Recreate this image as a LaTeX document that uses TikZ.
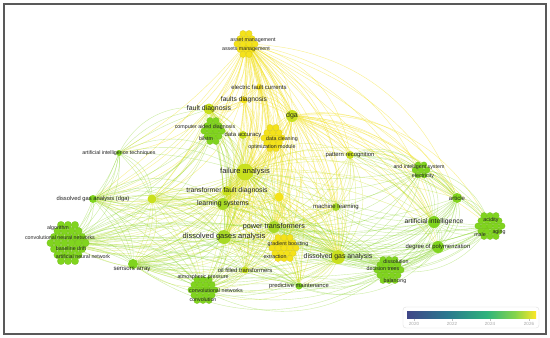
\documentclass[tikz,border=0pt]{standalone}
\usepackage{fontspec}
\setmainfont{Liberation Sans}
\usepackage{tikz}
\usetikzlibrary{backgrounds}

\definecolor{cYe}{HTML}{F4E21A}
\definecolor{cYG}{HTML}{C9E01E}
\definecolor{cLi}{HTML}{A8DA26}
\definecolor{cGr}{HTML}{80D41E}
\definecolor{txt}{HTML}{222222}
\definecolor{v0}{HTML}{404788}
\definecolor{v1}{HTML}{2A788E}
\definecolor{v2}{HTML}{2FB47C}
\definecolor{v3}{HTML}{84D44B}
\definecolor{v4}{HTML}{FDE725}

% offsets of the small bubbles in a cluster
\def\hexS{0/0,6/0,-6/0,3/5.2,-3/5.2,3/-5.2,-3/-5.2}
\def\hexM{-9/0,-3/0,3/0,9/0,-6/5.2,0/5.2,6/5.2,-6/-5.2,0/-5.2,6/-5.2,-3/10.4,3/10.4,-3/-10.4,3/-10.4}
\def\hexL{-12/0,-6/0,0/0,6/0,12/0,-9/5.2,-3/5.2,3/5.2,9/5.2,-9/-5.2,-3/-5.2,3/-5.2,9/-5.2,-6/10.4,0/10.4,6/10.4,-6/-10.4,0/-10.4,6/-10.4}
\def\hexX{-7/-18,0/-18,7/-18,-10.5/-12,-3.5/-12,3.5/-12,10.5/-12,-14/-6,-7/-6,0/-6,7/-6,14/-6,-17.5/0,-10.5/0,-3.5/0,3.5/0,10.5/0,17.5/0,-14/6,-7/6,0/6,7/6,14/6,-10.5/12,-3.5/12,3.5/12,10.5/12,-7/18,0/18,7/18}

\begin{document}
\begin{tikzpicture}[x=1pt, y=-1pt,
    kw/.style={circle, inner sep=0pt, minimum size=#1},
    lb/.style={font=\fontsize{#1}{#1}\selectfont, text=txt, inner sep=0pt},
    bub/.style={fill=#1, draw=#1!85!black, line width=0.15pt},
    ey/.style={draw=cYe, line width=0.4pt, opacity=0.5},
    em/.style={draw=cYG, line width=0.4pt, opacity=0.45},
    eg/.style={draw=cGr, line width=0.4pt, opacity=0.4},
    legbox/.style={draw=gray!25, fill=white, rounded corners=3pt, minimum width=136pt, minimum height=21pt, inner sep=0pt}
]
\useasboundingbox (0,0) rectangle (550,338);

% clusters
\coordinate (am) at (246,44);
\coordinate (cad) at (213,131);
\coordinate (dc) at (273,138);
\coordinate (ais) at (421,170);
\coordinate (ag) at (490,226);
\coordinate (gb) at (284,248);
\coordinate (dd) at (389,270);
\coordinate (cv) at (203,290);
\coordinate (alg) at (68,243);

% keywords
\node[kw=6, fill=cYe] (ef) at (259,87) {};
\node[kw=7, fill=cYe] (fd2) at (244,100) {};
\node[kw=11, fill=cYG] (fd) at (209,109) {};
\node[kw=12, fill=cYG] (dga) at (292,116) {};
\node[kw=8, fill=cYG] (dacc) at (243,135) {};
\node[kw=17, fill=cYG] (fa) at (245,172) {};
\node[kw=6, fill=cGr] (ait) at (119,153) {};
\node[kw=8, fill=cYG] (pr) at (350,155) {};
\node[kw=10, fill=cGr] (art) at (457,198) {};
\node[kw=12, fill=cGr] (ai) at (434,222) {};
\node[kw=12, fill=cGr] (dp) at (438,247) {};
\node[kw=8, fill=cLi] (ml) at (336,207) {};
\node[kw=10, fill=cYG] (tfd) at (227,191) {};
\node[kw=9, fill=cYe] (y1) at (279,197) {};
\node[kw=9, fill=cYG] (y2) at (152,199) {};
\node[kw=8, fill=cGr] (dgd) at (93,199) {};
\node[kw=12, fill=cLi] (ls) at (223,204) {};
\node[kw=12, fill=cLi] (pt) at (274,227) {};
\node[kw=14, fill=cLi] (dgs) at (224,237) {};
\node[kw=14, fill=cYG] (dga2) at (338,257) {};
\node[kw=7, fill=cYG] (oft) at (245,270) {};
\node[kw=7, fill=cGr] (pm) at (299,286) {};
\node[kw=10, fill=cGr] (sa) at (133,264) {};

\begin{pgfonlayer}{background}
\fill[white] (0,0) rectangle (550,338);
\foreach \a/\b in {am/fd, am/fd2, am/dga, am/fa, am/ef, am/tfd, am/pt, am/ls, am/dgs, am/dga2, am/dc, am/gb, am/cad, am/ml,
    am/y2, am/dgd, am/ait, am/pr, am/art, am/ai, am/y1, am/oft, am/pm,
    ef/fa, ef/dga, ef/fd, ef/ls, ef/pt, fd2/fa, fd2/fd, fd2/dga, fd2/ls, fd2/dgs, dc/fa, dc/pt, dc/gb, dc/ls, dc/dgs, dc/dga, dc/dacc, dc/tfd, dc/dga2,
    gb/dga2, gb/oft, gb/pm, gb/fa, gb/ls, gb/dgs, gb/pt, gb/tfd, gb/ml, y1/fa, y1/pt, y1/dga2, y1/tfd, y1/gb, y1/ls,
    dga/fa, dga/pr, dga/ml, dga/art, dga/dga2, dga/pt, dga/ai, dga/ls, dga/tfd, dga/ais, dga/dp, dga/ag}
    \foreach \k in {8,20,34} \draw[ey] (\a) to[bend left=\k] (\b);
\foreach \a/\b in {fd/fa, fd/ls, fd/dgs, fd/tfd, fd/pt, fd/cad, fd/y2, fd/dgd, fa/ls, fa/tfd, fa/pt, fa/dgs, fa/dga2,
    fa/ml, fa/oft, fa/pm, fa/y2, fa/dgd, fa/alg, fa/cv, fa/ai, fa/art, fa/sa, fa/pr, dacc/fa, dacc/ls,
    tfd/ls, tfd/pt, tfd/dgs, tfd/y2, tfd/dgd, tfd/alg, tfd/dga2, y2/dgd, y2/alg, y2/ls, y2/dgs, y2/sa, y2/cv, y2/pt,
    ls/pt, ls/dgs, ls/alg, ls/sa, ls/cv, ls/oft, ls/dga2, pt/dgs, pt/dga2, pt/oft, pt/pm, pt/cv, pt/dd, pt/sa, pt/alg,
    dgs/dga2, dgs/oft, dgs/pm, ml/dga2, ml/pt, ml/ls, pr/ml, pr/dga2, pr/pt, dga2/oft, dga2/pm, dga2/cv, oft/cv, oft/sa}
    \foreach \k in {8,20,34} \draw[em] (\a) to[bend left=\k] (\b);
\foreach \a/\b in {cad/fa, cad/ls, cad/dgs, cad/alg, cad/dgd, ait/y2, ait/fa, ait/dgd, ait/alg, ait/fd,
    pr/ais, pr/art, pr/ai, ais/art, ais/ai, ais/ag, ais/dga2, ais/pt, ais/fa, art/ag, art/ai, art/dp, art/dga2, art/dd, art/pt,
    ag/ai, ag/dp, ag/dd, ag/dga2, ag/pt, ag/fa, ai/dp, ai/dd, ai/dga2, ai/pt, ai/ml, dp/dd, dp/dga2, dp/pt, dp/dgs, dp/pm,
    dgd/alg, dgd/ls, dgd/dgs, dgd/sa, dgd/cv, dgs/alg, dgs/sa, dgs/cv, dgs/dd, dga2/dd, dga2/sa, dd/pm, dd/cv, dd/sa, dd/fa,
    alg/sa, alg/cv, alg/oft, alg/pm, alg/dga2, alg/pt, alg/dd, sa/cv, sa/pm, sa/dd, cv/pm, cv/dga2}
    \foreach \k in {8,20,34} \draw[eg] (\a) to[bend left=\k] (\b);
\end{pgfonlayer}

% cluster bubbles
\foreach \dx/\dy in \hexM \path[bub=cYe] ([shift={(\dx,\dy)}]am) circle (3.2pt);
\foreach \dx/\dy in \hexM \path[bub=cGr] ([shift={(\dx,\dy)}]cad) circle (3.2pt);
\foreach \dx/\dy in \hexM \path[bub=cYe] ([shift={(\dx,\dy)}]dc) circle (3.2pt);
\foreach \dx/\dy in \hexS \path[bub=cGr] ([shift={(\dx,\dy)}]ais) circle (3pt);
\foreach \dx/\dy in \hexL \path[bub=cGr] ([shift={(\dx,\dy)}]ag) circle (3.2pt);
\foreach \dx/\dy in \hexL \path[bub=cYe] ([shift={(\dx,\dy)}]gb) circle (3.2pt);
\foreach \dx/\dy in \hexL \path[bub=cGr] ([shift={(\dx,\dy)}]dd) circle (3.2pt);
\foreach \dx/\dy in \hexL \path[bub=cGr] ([shift={(\dx,\dy)}]cv) circle (3.2pt);
\foreach \dx/\dy in \hexX \path[bub=cGr] ([shift={(\dx,\dy)}]alg) circle (3.7pt);

% labels
\node[lb=5.3] (am-t1) at (253,40) {asset management};
\node[lb=5.3] (am-t2) at (246,49) {assets management};
\node[lb=6] (ef-t) at (ef) {electric fault currents};
\node[lb=6.7] (fd2-t) at (fd2) {faults diagnosis};
\node[lb=6.9] (fd-t) at (fd) {fault diagnosis};
\node[lb=7] (dga-t) at (dga) {dga};
\node[lb=5.3] (cad-t1) at (205,127) {computer aided diagnosis};
\node[lb=5.3] (cad-t2) at (206,139) {bilstm};
\node[lb=5.9] (dacc-t) at (dacc) {data accuracy};
\node[lb=5.3] (dc-t1) at (282,139) {data cleaning};
\node[lb=5.3] (dc-t2) at (272,147) {optimization module};
\node[lb=7.5] (fa-t) at (fa) {failure analysis};
\node[lb=5.3] (ait-t) at (ait) {artificial intelligence techniques};
\node[lb=5.9] (pr-t) at (pr) {pattern recognition};
\node[lb=5.3] (ais-t1) at (419,167) {and intelligent system};
\node[lb=5.3] (ais-t2) at (423,176) {electricity};
\node[lb=6] (art-t) at (art) {article};
\node[lb=5.3] (ag-t1) at (491,220) {acidity};
\node[lb=5.3] (ag-t2) at (480,235) {male};
\node[lb=5.3] (ag-t3) at (499,232) {aging};
\node[lb=6.8] (ai-t) at (ai) {artificial intelligence};
\node[lb=5.9] (dp-t) at (dp) {degree of polymerization};
\node[lb=6] (ml-t) at (ml) {machine learning};
\node[lb=6.9] (tfd-t) at (tfd) {transformer fault diagnosis};
\node[lb=5.8] (dgd-t) at (dgd) {dissolved gas analysis (dga)};
\node[lb=6.9] (ls-t) at (ls) {learning systems};
\node[lb=7.2] (pt-t) at (pt) {power transformers};
\node[lb=7.5] (dgs-t) at (dgs) {dissolved gases analysis};
\node[lb=5.3] (gb-t1) at (288,244) {gradient boosting};
\node[lb=5.3] (gb-t2) at (275,257) {extraction};
\node[lb=6.9] (dga2-t) at (dga2) {dissolved gas analysis};
\node[lb=5.3] (dd-t1) at (396,262) {dissolution};
\node[lb=5.3] (dd-t2) at (383,269) {decision trees};
\node[lb=5.3] (dd-t3) at (395,281) {balancing};
\node[lb=5.9] (oft-t) at (oft) {oil filled transformers};
\node[lb=5.8] (pm-t) at (pm) {predictive maintenance};
\node[lb=5.3] (cv-t1) at (203,277) {atmospheric pressure};
\node[lb=5.3] (cv-t2) at (216,291) {convolutional networks};
\node[lb=5.3] (cv-t3) at (203,300) {convolution};
\node[lb=5.3] (alg-t1) at (58,228) {algorithm};
\node[lb=5.3] (alg-t2) at (60,238) {convolutional neural networks};
\node[lb=5.3] (alg-t3) at (71,249) {baseline drift};
\node[lb=5.3] (alg-t4) at (83,257) {artificial neural network};
\node[lb=6.1] (sa-t) at (132,269) {sensors array};

% legend
\node[legbox] (leg) at (471,317.5) {};
\shade[left color=v0, right color=v1] (407,311) rectangle (447,318.5);
\shade[left color=v1, right color=v2] (447,311) rectangle (487,318.5);
\shade[left color=v2, right color=v3] (487,311) rectangle (515,318.5);
\shade[left color=v3, right color=v4] (515,311) rectangle (536,318.5);
\foreach \yr/\xx in {2020/414, 2022/452, 2024/490, 2026/529} {
    \draw[gray!50, line width=0.4pt] (\xx,318.5) -- (\xx,320.5);
    \node[lb=4.5, text=gray!70] (y\yr) at (\xx,323.5) {\yr};
}

% frame
\draw[black!65, line width=1.2pt] (4,4) rectangle (546,334);
\end{tikzpicture}
\end{document}
